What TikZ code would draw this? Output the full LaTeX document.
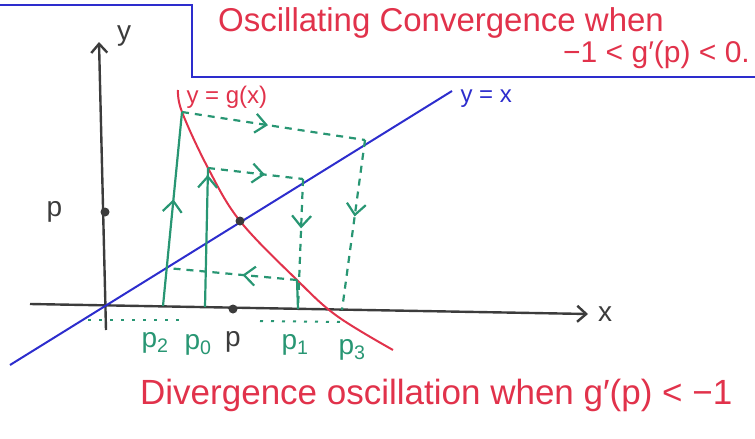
\documentclass[tikz,border=0pt]{standalone}
\usepackage{fontspec}
\setmainfont{Liberation Sans}
\usepackage{tikz}
\usetikzlibrary{positioning, arrows.meta, decorations.markings}
\definecolor{azulrecta}{RGB}{45,45,205}
\definecolor{rojocurva}{RGB}{225,50,75}
\definecolor{verdetela}{RGB}{40,150,115}
\definecolor{grisejes}{RGB}{60,60,60}
\tikzset{
    eje/.style={draw=grisejes, line width=2.4pt, -{Straight Barb[length=9pt, width=16pt]}},
    recta/.style={draw=azulrecta, line width=2pt},
    curva/.style={draw=rojocurva, line width=2pt},
    tela/.style={draw=verdetela, line width=2.2pt},
    tela_disc/.style={tela, dash pattern=on 7pt off 6pt},
    puntos_tela/.style={draw=verdetela, line width=2pt, dash pattern=on 3pt off 8pt},
    flecha_en/.style={postaction={decorate}, decoration={markings,
        mark=at position #1 with {\pgfsetdash{}{0pt}\arrow{Straight Barb[length=11pt, width=19pt]}}}},
    marco/.style={draw=azulrecta, line width=2.2pt},
    punto/.style={circle, fill=grisejes, inner sep=0pt, minimum size=9pt},
    texto_rojo/.style={text=rojocurva, inner sep=0pt, font=\fontsize{33}{36}\selectfont},
    etq_verde/.style={text=verdetela, inner sep=0pt, font=\fontsize{28}{30}\selectfont},
    etq_negra/.style={text=grisejes, inner sep=0pt, font=\fontsize{28}{30}\selectfont}
}

\begin{document}
\begin{tikzpicture}[x=1pt, y=-1pt, node distance=6pt and 8pt]
    \useasboundingbox (0,0) rectangle (755,439);

    % 1. Recuadro superior con el caso convergente
    \draw[marco] (0,5) -- (192,5) -- (192,77) -- (755,77);
    \node[texto_rojo, anchor=west] (titulo) at (218,23) {Oscillating Convergence when};
    \node[texto_rojo, anchor=east, font=\fontsize{30}{32}\selectfont] (condicion) at (750,55) {−1 < g′(p) < 0.};

    % 2. Ejes
    \coordinate (x_ini) at (30,304);
    \coordinate (x_fin) at (588,314);
    \coordinate (y_ini) at (106,330);
    \coordinate (y_fin) at (99,42);
    \draw[eje] (x_ini) -- (x_fin);
    \draw[eje] (y_ini) -- (y_fin);
    \node[etq_negra, right=10pt of x_fin] (lbl_x) {x};
    \node[etq_negra, right=18pt of y_fin, yshift=6pt] (lbl_y) {y};

    % 3. Recta y = x y curva y = g(x)
    \coordinate (r_ini) at (10,365);
    \coordinate (r_fin) at (452,91);
    \draw[recta] (r_ini) -- (r_fin);
    \node[text=azulrecta, anchor=west, font=\fontsize{24}{26}\selectfont] (lbl_recta) at ([xshift=5pt, yshift=-8pt]r_fin) {y = x};

    \coordinate (g_ini) at (178,90);
    \coordinate (g2) at (182,112);
    \coordinate (g0) at (208,168);
    \coordinate (pf) at (240,221);
    \coordinate (g1) at (297,280);
    \coordinate (g_cruce) at (337,316);
    \coordinate (g_fin) at (393,350);
    \draw[curva] plot[smooth, tension=0.6] coordinates {(g_ini) (g2) (g0) (pf) (g1) (g_cruce) (g_fin)};
    \node[text=rojocurva, anchor=west, font=\fontsize{24}{26}\selectfont] (lbl_curva) at (183,97) {y = g(x)};

    % 4. Puntos de la telaraña
    \coordinate (p0_eje) at (205,307);
    \coordinate (d0) at (303,179);
    \coordinate (p1_eje) at (298,309);
    \coordinate (d1) at (167,268);
    \coordinate (p2_eje) at (163,306);
    \coordinate (d2) at (365,140);
    \coordinate (p3_eje) at (342,310);

    % --- TELARAÑA ---
    \draw[tela, flecha_en=0.95] (p0_eje) -- (g0);
    \draw[tela_disc, flecha_en=0.6] (g0) -- (d0);
    \draw[tela_disc, flecha_en=0.38] (d0) -- (p1_eje);
    \draw[tela] (p1_eje) -- (g1);
    \draw[tela_disc, flecha_en=0.42] (g1) -- (d1);
    \draw[tela, flecha_en=0.55] (p2_eje) -- (g2);
    \draw[tela_disc, flecha_en=0.47] (g2) -- (d2);
    \draw[tela_disc, flecha_en=0.45] (d2) -- (p3_eje);

    % Línea punteada bajo el eje
    \coordinate (pt_a) at (88,320);
    \coordinate (pt_b) at (183,320);
    \coordinate (pt_c) at (260,321);
    \coordinate (pt_d) at (343,322);
    \draw[puntos_tela] (pt_a) -- (pt_b);
    \draw[puntos_tela] (pt_c) -- (pt_d);

    % 5. Punto fijo y sus proyecciones
    \node[punto] (fijo) at (pf) {};
    \node[punto] (p_y) at (105,212) {};
    \node[punto] (p_x) at (233,309) {};
    \node[etq_negra, left=38pt of p_y] (lbl_py) {p};
    \node[etq_negra] (lbl_px) at (233,342) {p};

    % Etiquetas de las iteraciones
    \node[etq_verde] (lbl_p2) at (155,343) {p\textsubscript{2}};
    \node[etq_verde] (lbl_p0) at (198,345) {p\textsubscript{0}};
    \node[etq_verde] (lbl_p1) at (295,345) {p\textsubscript{1}};
    \node[etq_verde] (lbl_p3) at (352,350) {p\textsubscript{3}};

    % 6. Caso divergente
    \node[texto_rojo, anchor=west, font=\fontsize{35}{38}\selectfont] (divergencia) at (140,395) {Divergence oscillation when g′(p) < −1};
\end{tikzpicture}
\end{document}
